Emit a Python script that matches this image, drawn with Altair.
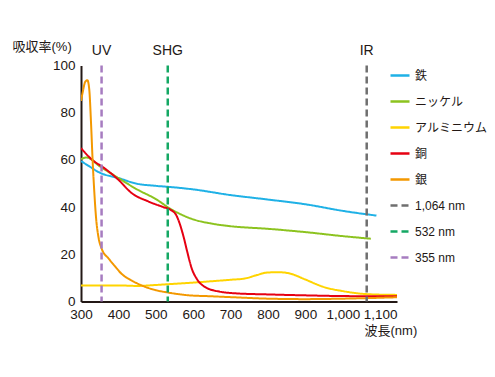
import altair as alt
import pandas as pd

# ---- data ----
names = ["鉄", "ニッケル", "アルミニウム", "銅", "銀", "1,064 nm", "532 nm", "355 nm"]
colors = ["#1fb1e6", "#8cc31f", "#ffd400", "#e60012", "#f39800", "#6f6f6f", "#14a864", "#a67cc0"]

iron_x = [300, 320, 350, 400, 450, 500, 540, 600, 700, 800, 900, 1000, 1090]
iron_y = [59.5, 57.5, 54.6, 52.3, 49.9, 49.0, 48.5, 47.5, 45.1, 43.2, 41.2, 38.4, 36.4]

nickel_x = [300, 315, 350, 400, 450, 500, 540, 600, 650, 700, 800, 900, 1000, 1075]
nickel_y = [60.3, 61.0, 57.3, 52.3, 47.5, 43.4, 39.2, 34.8, 33.0, 31.9, 30.8, 29.4, 27.7, 26.6]

alu_x = [300, 400, 450, 500, 550, 600, 650, 700, 740, 770, 800, 830, 860, 900, 950, 1000, 1050, 1100, 1145]
alu_y = [6.8, 6.8, 6.6, 7.0, 7.5, 8.0, 8.6, 9.2, 9.8, 11.2, 12.3, 12.4, 11.8, 9.3, 6.1, 4.4, 3.3, 2.9, 2.8]

copper_x = [300, 330, 360, 400, 435, 480, 520, 540, 555, 565, 575, 585, 595, 610, 630, 670, 720, 800, 900, 1000, 1145]
copper_y = [65.0, 60.0, 56.8, 51.6, 46.0, 42.4, 40.0, 38.8, 36.5, 32.5, 27.0, 20.5, 14.5, 9.5, 6.3, 4.2, 3.4, 3.0, 2.6, 2.3, 2.2]

silver_x = [300, 305, 311, 317, 322, 327, 331, 335, 340, 347, 355, 375, 391, 410, 431, 467, 500, 529, 583, 650, 707, 800, 900, 1000, 1145]
silver_y = [85.0, 89.0, 93.0, 93.8, 90.0, 75.0, 60.0, 48.0, 36.0, 27.0, 22.5, 18.0, 14.9, 11.5, 9.3, 6.5, 4.8, 3.9, 2.7, 2.2, 1.8, 1.2, 1.0, 1.2, 1.8]

laser_x = [1064, 532, 355]
laser_names = ["1,064 nm", "532 nm", "355 nm"]
laser_labels = ["IR", "SHG", "UV"]

x_ticks = [300, 400, 500, 600, 700, 800, 900, 1000, 1100]
y_ticks = [0, 20, 40, 60, 80, 100]

# ---- tables ----
rows = []
for nm, xs, ys in [("鉄", iron_x, iron_y), ("ニッケル", nickel_x, nickel_y),
                   ("アルミニウム", alu_x, alu_y), ("銅", copper_x, copper_y),
                   ("銀", silver_x, silver_y)]:
    for a, b in zip(xs, ys):
        rows.append({"name": nm, "wl": a, "v": b})
df_lines = pd.DataFrame(rows)
df_rules = pd.DataFrame({"wl": laser_x, "name": laser_names, "label": laser_labels})

FONT = "Liberation Sans, Noto Sans CJK JP"
INK = "#231815"
dashes = [[1, 0]] * 5 + [[7, 4]] * 3

legend = alt.Legend(
    title=None, orient="none", legendX=308, legendY=-1, padding=0,
    symbolType="stroke", symbolSize=361, symbolStrokeWidth=2.5,
    labelFontSize=12, labelFont=FONT, labelColor=INK, labelOffset=4,
    labelLimit=200, rowPadding=9,
)
color = alt.Color("name:N", scale=alt.Scale(domain=names, range=colors), legend=legend, title=None)
dash = alt.StrokeDash("name:N", scale=alt.Scale(domain=names, range=dashes), legend=legend, title=None)

x_axis = alt.Axis(
    values=x_ticks, format=",d", title="波長(nm)", titleAngle=0,
    titleX=283, titleY=29, titleAlign="left", titleBaseline="middle",
    titleFontSize=13, titleFontWeight="normal", titleFont=FONT, titleColor=INK,
    labelPadding=6, labelOverlap=False, labelFlush=False,
)
x_scale = alt.Scale(domain=[300, 1145], nice=False, zero=False)
y_enc = alt.Y(
    "v:Q",
    scale=alt.Scale(domain=[0, 100], nice=False),
    axis=alt.Axis(
        values=y_ticks, title="吸収率(%)", titleAngle=0,
        titleX=-69, titleY=-19.5, titleAlign="left", titleBaseline="middle",
        titleFontSize=13, titleFontWeight="normal", titleFont=FONT, titleColor=INK,
        labelPadding=6, labelOverlap=False, labelFlush=False,
    ),
)

lines = alt.Chart(df_lines).mark_line(strokeWidth=2, interpolate="monotone", clip=True).encode(
    x=alt.X("wl:Q", scale=x_scale, axis=x_axis), y=y_enc, color=color, strokeDash=dash
)
rules = alt.Chart(df_rules).mark_rule(strokeWidth=2.5).encode(
    x=alt.X("wl:Q", scale=x_scale, axis=x_axis), color=color, strokeDash=dash
)
texts = alt.Chart(df_rules).mark_text(dy=-14.5, fontSize=14, font=FONT, color=INK, baseline="middle").encode(
    x=alt.X("wl:Q", scale=x_scale, axis=x_axis), y=alt.datum(100), text="label:N"
)

chart = alt.layer(lines, rules, texts).properties(
    width=316, height=236,
    padding={"left": 73, "top": 57.5, "right": 90, "bottom": 67},
    autosize=alt.AutoSizeParams(type="none"),
    background="white",
).configure_view(stroke=None).configure_axis(
    grid=False, ticks=False, domainColor=INK, domainWidth=2,
    labelFont=FONT, labelFontSize=13.5, labelColor=INK, labelOverlap=False,
)

chart.save("out.html", embed_options={"renderer": "svg", "actions": False})
